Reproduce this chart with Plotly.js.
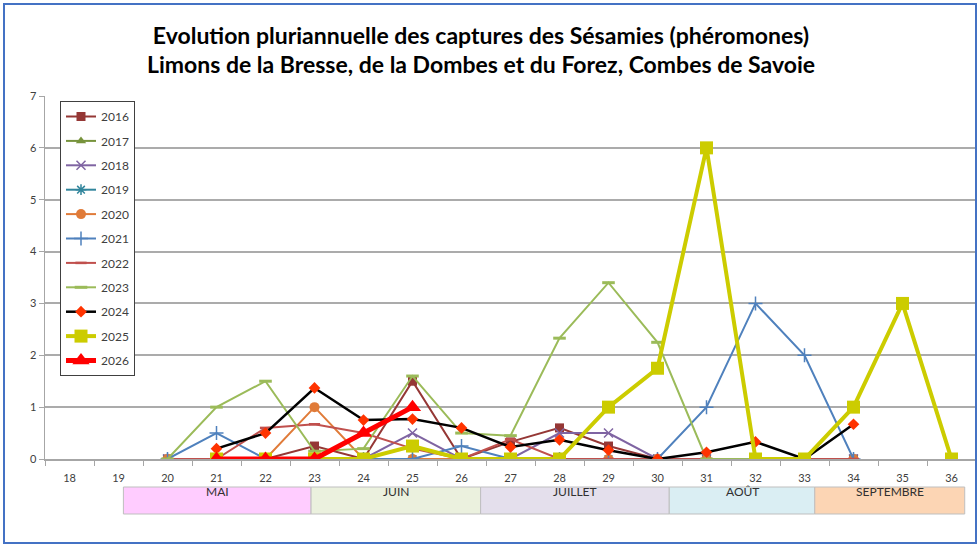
<!DOCTYPE html>
<html><head><meta charset="utf-8">
<script src="https://cdn.plot.ly/plotly-3.0.1.min.js"></script>
<style>html,body{margin:0;padding:0;background:#fff}#chart{width:979px;height:546px}</style>
</head><body><div id="chart"></div>
<script>
// ---- data ----
const weeks = [18,19,20,21,22,23,24,25,26,27,28,29,30,31,32,33,34,35,36];
const s2016 = [null,null,0,0,0,0.25,0,1.5,0,0.33,0.6,0.25,0,0,0,0,0,null,null];
const s2017 = [null,null,0,0,0,0,0,0,0,0,0,0,0,0,0,0,0,null,null];
const s2018 = [null,null,0,0,0,0,0,0.5,0,0,0.5,0.5,0,0,0,0,0,null,null];
const s2019 = [null,null,0,0,0,0,0,0,0,0,0,0,0,0,0,0,0,null,null];
const s2020 = [null,null,0,0,0,1,0,0,0,0,0,0,0,0,0,0,0,null,null];
const s2021 = [null,null,0,0.5,0,0,0,0,0.25,0,0,0,0,1,3,2,0,null,null];
const s2022 = [null,null,0,0,0.6,0.67,0.5,0.2,0,0.38,0,0,0,0,0,0,0,null,null];
const s2023 = [null,null,0,1,1.5,0.15,0.2,1.6,0.5,0.45,2.33,3.4,2.25,0,0,0,null,null,null];
const s2024 = [null,null,null,0.2,0.5,1.37,0.75,0.77,0.6,0.23,0.37,0.17,0,0.13,0.33,0,0.67,null,null];
const s2025 = [null,null,null,0,0,0,0,0.25,0,0,0,1,1.75,6,0,0,1,3,0];
const s2026 = [null,null,null,0,0,0,0.5,1,null,null,null,null,null,null,null,null,null,null,null];
const years = ['2016','2017','2018','2019','2020','2021','2022','2023','2024','2025','2026'];
const series = [s2016,s2017,s2018,s2019,s2020,s2021,s2022,s2023,s2024,s2025,s2026];
const months = ['MAI','JUIN','JUILLET','AOÛT','SEPTEMBRE'];
const monthFrom = [19.1,22.93,26.39,30.24,33.21];
const monthTo   = [22.93,26.39,30.24,33.21,36.27];
const yTicks = [0,1,2,3,4,5,6,7];

// ---- styles ----
const styles = [
  {c:'#953735', w:2, m:{symbol:'square', size:9, color:'#953735'}},
  {c:'#77933C', w:2, m:{symbol:'triangle-up', size:9, color:'#77933C'}},
  {c:'#7F64A2', w:2, m:{symbol:'x-thin-open', size:9, line:{color:'#7F64A2', width:1.5}}},
  {c:'#31859C', w:2, m:{symbol:'asterisk-open', size:9, line:{color:'#4BACC6', width:1.5}}},
  {c:'#E07B39', w:2, m:{symbol:'circle', size:10, color:'#E07B39'}},
  {c:'#4F81BD', w:2, m:{symbol:'cross-thin-open', size:10, line:{color:'#4F81BD', width:1.5}}},
  {c:'#C0504D', w:2, m:{symbol:'line-ew-open', size:8, line:{color:'#C0504D', width:2.5}}},
  {c:'#9BBB59', w:2, m:{symbol:'line-ew-open', size:9, line:{color:'#9BBB59', width:3}}},
  {c:'#000000', w:2.5, m:{symbol:'diamond', size:9, color:'#FF3300'}},
  {c:'#CCCC00', w:4, m:{symbol:'square', size:13, color:'#CCCC00'}},
  {c:'#FF0000', w:5, m:{symbol:'triangle-up', size:15, color:'#FF0000'}}
];

const traces = years.map((y,i)=>({
  type:'scatter', mode:'lines+markers', name:y, x:weeks, y:series[i],
  legendgroup:y, connectgaps:false,
  line:{color:styles[i].c, width:styles[i].w},
  marker:styles[i].m
}));

const L = 45, R = 976, T = 96, B = 459;
const pw = R-L, ph = B-T;
const px = v => (v-L)/pw;
const py = v => (B-v)/ph;

const bandColors = ['#FFCCFF','#EBF1DE','#E4DFEC','#DAEEF3','#FCD5B4'];
const shapes = months.map((m,i)=>({
  type:'rect', xref:'x', yref:'paper', x0:monthFrom[i], x1:monthTo[i],
  y0:py(514), y1:py(487), fillcolor:bandColors[i], line:{color:'#BFBFBF', width:1}, layer:'above'
}));
shapes.push({type:'rect', xref:'paper', yref:'paper', x0:px(4), x1:px(976), y0:py(543), y1:py(4),
  line:{color:'#4472C4', width:2}, fillcolor:'rgba(0,0,0,0)'});

const annotations = months.map((m,i)=>({
  text:m, xref:'x', yref:'paper', x:(monthFrom[i]+monthTo[i])/2, y:py(500.5),
  showarrow:false, font:{family:'Lato, sans-serif', size:12, color:'#303030'}
}));

const layout = {
  width:979, height:546,
  margin:{l:L, r:979-R, t:T, b:546-B, pad:0},
  paper_bgcolor:'#ffffff', plot_bgcolor:'#ffffff',
  title:{text:'Evolution pluriannuelle des captures des Sésamies (phéromones)<br>Limons de la Bresse, de la Dombes et du Forez, Combes de Savoie',
    font:{family:'Lato, sans-serif', size:23, color:'#000000', weight:'bold'},
    x:px(481), xref:'paper', xanchor:'center', y:1-43.5/546, yref:'container', yanchor:'middle'},
  xaxis:{range:[17.5,36.5], tickvals:weeks, ticktext:weeks.map(String), ticks:'', showgrid:false,
    zeroline:false, showline:true, linecolor:'#A6A6A6', linewidth:1.5, ticklabelstandoff:8,
    tickfont:{family:'Lato, sans-serif', size:11, color:'#404040'},
    minor:{ticks:'outside', tick0:17.5, dtick:1, ticklen:5, tickcolor:'#A6A6A6', showgrid:false}},
  yaxis:{range:[0,7], tickvals:yTicks, ticks:'outside', ticklen:5, tickcolor:'#A6A6A6',
    showgrid:true, gridcolor:'#ABABAB', gridwidth:2, zeroline:false,
    showline:true, linecolor:'#A6A6A6', linewidth:1.5,
    tickfont:{family:'Lato, sans-serif', size:11, color:'#404040'}},
  legend:{x:px(60), y:py(101), xanchor:'left', yanchor:'top', bgcolor:'#ffffff',
    bordercolor:'#404040', borderwidth:1, font:{family:'Lato, sans-serif', size:12, color:'#404040'},
    traceorder:'grouped', tracegroupgap:5.4, itemwidth:30},
  shapes:shapes, annotations:annotations, showlegend:true
};

Plotly.newPlot('chart', traces, layout, {displayModeBar:false, staticPlot:true});
</script></body></html>
